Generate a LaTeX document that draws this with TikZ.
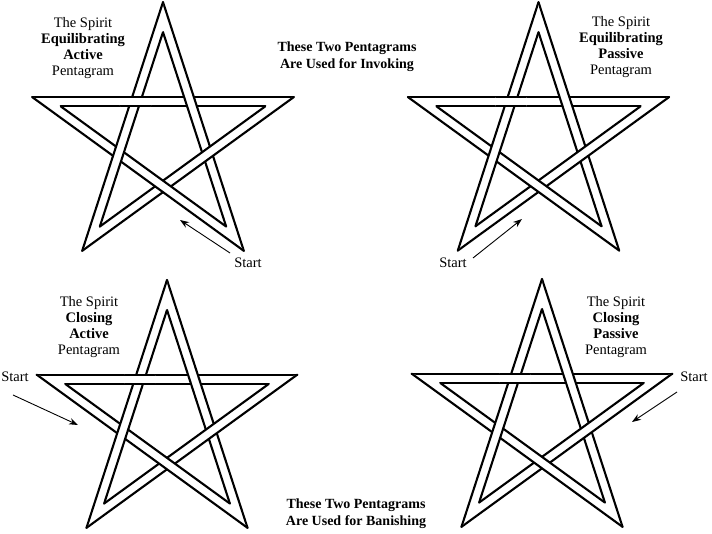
\documentclass[tikz,border=0pt]{standalone}
\usepackage{fontspec}
\setmainfont{Liberation Serif}
\usetikzlibrary{calc,arrows.meta}
\tikzset{
  starline/.style={line width=2.1pt, line cap=round, black},
  lab/.style={align=center, font=\fontsize{14.5}{16}\selectfont, inner sep=0pt},
  ctext/.style={align=center, font=\fontsize{14}{17}\selectfont\bfseries, inner sep=0pt},
  starttxt/.style={font=\fontsize{14.5}{16}\selectfont, inner sep=0pt},
  arr/.style={line width=0.9pt, -{Stealth[length=9pt,width=6.5pt]}}
}
\newcommand{\pband}[3]{%
  \fill[white] (#1o#2) -- (#1o#3) -- (#1i#3) -- (#1i#2) -- cycle;
  \draw[starline] (#1o#2) -- (#1o#3) (#1i#2) -- (#1i#3);
}
\newcommand{\pstar}[4]{%
  \coordinate (#1c) at (#2,#3);
  \foreach \k in {0,...,4}{%
    \coordinate (#1o\k) at ($(#1c)+({90-72*\k}:#4)$);
    \coordinate (#1i\k) at ($(#1c)+({90-72*\k}:{#4-30})$);
  }%
  \pband{#1}{1}{4}\pband{#1}{2}{0}\pband{#1}{3}{1}\pband{#1}{4}{2}\pband{#1}{0}{3}%
  \coordinate (#1x) at ($(#1c)+(126:{0.382*(#4-15)})$);
  \begin{scope}
    \clip (#1x) circle (16);
    \pband{#1}{1}{4}%
  \end{scope}%
}
\begin{document}
\begin{tikzpicture}[x=1pt,y=1pt]
\useasboundingbox (0,0) rectangle (712,533);
\fill[white] (0,0) rectangle (712,533);

% stars
\pstar{a}{163}{393.4}{137.5}
\pstar{b}{538.5}{393.5}{137.3}
\pstar{c}{167}{116}{137}
\pstar{d}{542}{117}{137}

% labels
\node[lab] (la) at (83,485) {The Spirit\\\textbf{Equilibrating}\\\textbf{Active}\\Pentagram};
\node[lab] (lb) at (621,486) {The Spirit\\\textbf{Equilibrating}\\\textbf{Passive}\\Pentagram};
\node[lab] (lc) at (89,206) {The Spirit\\\textbf{Closing}\\\textbf{Active}\\Pentagram};
\node[lab] (ld) at (616,206) {The Spirit\\\textbf{Closing}\\\textbf{Passive}\\Pentagram};

\node[ctext] (inv) at (347,476.5) {These Two Pentagrams\\Are Used for Invoking};
\node[ctext] (ban) at (356,19) {These Two Pentagrams\\Are Used for Banishing};

% start labels and arrows
\node[starttxt] (sa) at (248,270) {Start};
\coordinate (ta) at (230,280);
\coordinate (ha) at (180,313);
\draw[arr] (ta) -- (ha);

\node[starttxt] (sb) at (453,270) {Start};
\coordinate (tb) at (473,275);
\coordinate (hb) at (522,314);
\draw[arr] (tb) -- (hb);

\node[starttxt] (sc) at (15,156) {Start};
\coordinate (tc) at (13,138);
\coordinate (hc) at (78,108);
\draw[arr] (tc) -- (hc);

\node[starttxt] (sd) at (694,156) {Start};
\coordinate (td) at (677,141);
\coordinate (hd) at (632,111);
\draw[arr] (td) -- (hd);
\end{tikzpicture}
\end{document}
